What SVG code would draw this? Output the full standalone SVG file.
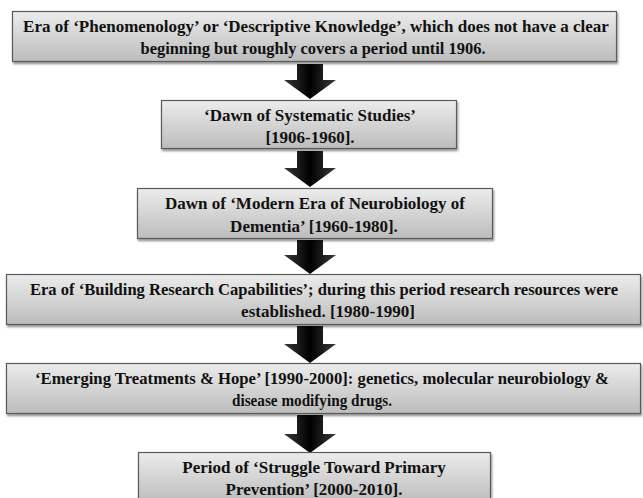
<svg xmlns="http://www.w3.org/2000/svg" width="643" height="498" viewBox="0 0 643 498">
<defs>
<linearGradient id="boxg" x1="0" y1="0" x2="0" y2="1">
<stop offset="0" stop-color="#ececec"/>
<stop offset="1" stop-color="#bcbcbc"/>
</linearGradient>
<linearGradient id="arrg" x1="0" y1="0" x2="1" y2="0">
<stop offset="0" stop-color="#3a3a3a"/>
<stop offset="0.5" stop-color="#000"/>
<stop offset="1" stop-color="#3a3a3a"/>
</linearGradient>
<filter id="sh" x="-5%" y="-20%" width="110%" height="150%">
<feDropShadow dx="1" dy="2" stdDeviation="1.2" flood-color="#000" flood-opacity="0.45"/>
</filter>
</defs>
<style>
.box{fill:url(#boxg);stroke:#5a5a5a;stroke-width:1.2;filter:url(#sh)}
.t{font-family:"Liberation Serif","Times New Roman",serif;font-weight:bold;font-size:17px;fill:#111;text-anchor:middle}
.arr{fill:url(#arrg)}
</style>
<g id="connectors">
<path class="arr" d="M297,64 H323 V80 H336 L310,99 L284,80 H297 Z"/>
<path class="arr" d="M297,151 H323 V168 H336 L310,187 L284,168 H297 Z"/>
<path class="arr" d="M297,240 H323 V255 H336 L310,274 L284,255 H297 Z"/>
<path class="arr" d="M297,326 H323 V344 H336 L310,363 L284,344 H297 Z"/>
<path class="arr" d="M297,415 H323 V434 H336 L310,453 L284,434 H297 Z"/>
</g>
<g id="node1">
<rect class="box" x="12.5" y="11.5" width="604" height="50"/>
<text class="t" x="316" y="32">Era of ‘Phenomenology’ or ‘Descriptive Knowledge’, which does not have a clear</text>
<text class="t" x="313" y="54" textLength="345" lengthAdjust="spacingAndGlyphs">beginning but roughly covers a period until 1906.</text>
</g>
<g id="node2">
<rect class="box" x="161.5" y="100.5" width="295" height="48"/>
<text class="t" x="310" y="121">‘Dawn of Systematic Studies’</text>
<text class="t" x="310" y="143">[1906-1960].</text>
</g>
<g id="node3">
<rect class="box" x="137.5" y="188.5" width="355" height="50"/>
<text class="t" x="315" y="209">Dawn of ‘Modern Era of Neurobiology of</text>
<text class="t" x="314" y="232">Dementia’ [1960-1980].</text>
</g>
<g id="node4">
<rect class="box" x="6.5" y="274.5" width="634" height="50"/>
<text class="t" x="324" y="295" textLength="588" lengthAdjust="spacingAndGlyphs">Era of ‘Building Research Capabilities’; during this period research resources were</text>
<text class="t" x="328" y="317">established. [1980-1990]</text>
</g>
<g id="node5">
<rect class="box" x="6.5" y="363.5" width="634" height="50"/>
<text class="t" x="322" y="384" textLength="574" lengthAdjust="spacingAndGlyphs">‘Emerging Treatments &amp; Hope’ [1990-2000]: genetics, molecular neurobiology &amp;</text>
<text class="t" x="312" y="406" textLength="160" lengthAdjust="spacingAndGlyphs">disease modifying drugs.</text>
</g>
<g id="node6">
<rect class="box" x="138.5" y="452.5" width="352" height="50"/>
<text class="t" x="314" y="473">Period of ‘Struggle Toward Primary</text>
<text class="t" x="314" y="495">Prevention’ [2000-2010].</text>
</g>
</svg>
